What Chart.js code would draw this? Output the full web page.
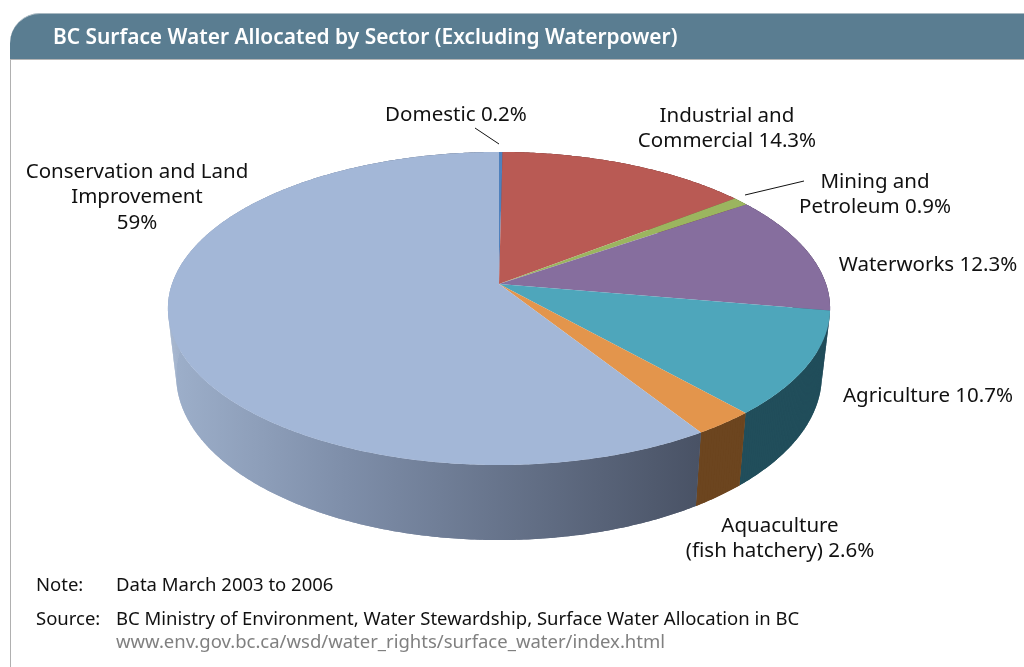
<!DOCTYPE html>
<html>
<head>
<meta charset="utf-8">
<title>BC Surface Water Allocated by Sector</title>
<script src="https://cdn.jsdelivr.net/npm/chart.js@4"></script>
<style>
body{margin:0;background:#fff;font-family:"Noto Sans",sans-serif;color:#111}
#page{position:relative;width:1024px;height:667px;overflow:hidden}
#myChart{position:absolute;left:0;top:0}
#band{position:absolute;left:10px;top:13px;width:1014px;height:47px;box-sizing:border-box;background:#5a7d91;border-top:1px solid #a9b9c2;border-bottom:1px solid #b5b5b5;border-top-left-radius:30px}
#title{position:absolute;left:43px;top:9px;color:#fff;font-size:20.9px;font-weight:600;line-height:26px;white-space:nowrap}
#edge{position:absolute;left:10px;top:60px;width:1px;height:607px;background:#b0b0b0}
.note{position:absolute;font-size:18.5px;line-height:24px;white-space:nowrap}
</style>
</head>
<body>
<div id="page">
<canvas id="myChart" width="1024" height="667"></canvas>
<div id="band"><div id="title">BC Surface Water Allocated by Sector (Excluding Waterpower)</div></div>
<div id="edge"></div>
<div class="note" style="left:36px;top:572px">Note:</div>
<div class="note" style="left:116px;top:572px">Data March 2003 to 2006</div>
<div class="note" style="left:36px;top:606px">Source:</div>
<div class="note" style="left:116px;top:606px">BC Ministry of Environment, Water Stewardship, Surface Water Allocation in BC</div>
<div class="note" style="left:116px;top:629px;color:#808080">www.env.gov.bc.ca/wsd/water_rights/surface_water/index.html</div>
</div>
<script>
const sectors = ['Domestic','Industrial and Commercial','Mining and Petroleum','Waterworks','Agriculture','Aquaculture (fish hatchery)','Conservation and Land Improvement'];
const shares = [0.2,14.3,0.9,12.3,10.7,2.6,59];
const topColors = ['#4f81bd','#b95a54','#9bb55f','#866e9e','#4ea6bb','#e3954c','#a3b7d7'];
const sideColors = ['#3a5f8c','#7d3d39','#6d8040','#5b4a6c','#214e5b','#6c451f',null];
const labelLines = [
    ['Domestic 0.2%'],
    ['Industrial and','Commercial 14.3%'],
    ['Mining and','Petroleum 0.9%'],
    ['Waterworks 12.3%'],
    ['Agriculture 10.7%'],
    ['Aquaculture','(fish hatchery) 2.6%'],
    ['Conservation and Land','Improvement','59%']
];

// where each label goes: centre x, first baseline
const labelSpots = [[456,121],[727,122],[875,188],[928,271],[928,402],[780,532],[137,178]];
const leaders = [[475,128,499,144],[745,195,804,181]];

// the tilted look: circle -> perspective ellipse, k is how much nearer the front is
const tilt = {k:0.1565, xs:327/284, ys:152.7/284, rimX:0.975, rimY:1.05, rimDrop:66};

function project(el,a,rim){
    let u = Math.cos(a), v = Math.sin(a);
    let w = 1 - tilt.k*v;
    let x = el.outerRadius*tilt.xs*u/w;
    let y = el.outerRadius*tilt.ys*v/w;
    if(rim) return [el.x + x*tilt.rimX, el.y + y*tilt.rimY + tilt.rimDrop];
    return [el.x + x, el.y + y];
}

function arcPoints(el,rim){
    let pts = [];
    let n = Math.max(2,Math.ceil((el.endAngle-el.startAngle)/0.01));
    for(let i=0;i<=n;i++){
        pts.push(project(el,el.startAngle+(el.endAngle-el.startAngle)*i/n,rim));
    }
    return pts;
}

function trace(ctx,pts){
    pts.forEach((p,i)=>{
        if(i==0) ctx.moveTo(p[0],p[1]);
        else ctx.lineTo(p[0],p[1]);
    });
}

const pie3d = {
    id:'pie3d',
    beforeDatasetsDraw(chart){
        const ctx = chart.ctx;
        const arcs = chart.getDatasetMeta(0).data;

        // walls first, the top face covers whatever is behind
        arcs.forEach((el,i)=>{
            let fill = sideColors[i];
            if(!fill){
                fill = ctx.createLinearGradient(172,0,700,0);
                fill.addColorStop(0,'#9dafca');
                fill.addColorStop(0.33,'#7e8ea9');
                fill.addColorStop(1,'#495265');
            }
            let top = arcPoints(el,false), rim = arcPoints(el,true);
            ctx.fillStyle = fill;
            ctx.beginPath();
            trace(ctx,top.concat(rim.slice().reverse()));
            ctx.closePath();
            ctx.fill();
            // one quad at a time too, the outline alone leaves a notch at the sides
            for(let j=0;j<top.length-1;j++){
                ctx.beginPath();
                trace(ctx,[top[j],top[j+1],rim[j+1],rim[j]]);
                ctx.closePath();
                ctx.fill();
            }
        });

        arcs.forEach((el,i)=>{
            ctx.beginPath();
            ctx.moveTo(el.x,el.y);
            arcPoints(el,false).forEach(p=>ctx.lineTo(p[0],p[1]));
            ctx.closePath();
            ctx.fillStyle = topColors[i];
            ctx.fill();
        });

        ctx.strokeStyle = '#111';
        ctx.lineWidth = 1;
        leaders.forEach(l=>{
            ctx.beginPath();
            ctx.moveTo(l[0],l[1]);
            ctx.lineTo(l[2],l[3]);
            ctx.stroke();
        });

        ctx.fillStyle = '#111';
        ctx.font = '20.5px "Noto Sans"';
        ctx.textAlign = 'center';
        ctx.textBaseline = 'alphabetic';
        labelLines.forEach((lines,i)=>{
            lines.forEach((t,j)=>ctx.fillText(t,labelSpots[i][0],labelSpots[i][1]+j*25.3));
        });
        return false;
    }
};

const ctx = document.querySelector('#myChart').getContext('2d');
const myChart = new Chart(ctx, {
    type: 'pie',
    data: {
        labels: sectors,
        datasets: [{
            data: shares,
            backgroundColor: topColors,
            borderWidth: 0
        }]
    },
    options: {
        responsive: false,
        animation: false,
        layout: {padding: {left: 215, right: 241, top: 0, bottom: 99}},
        plugins: {legend: {display: false}, tooltip: {enabled: false}}
    },
    plugins: [pie3d]
});
</script>
</body>
</html>
